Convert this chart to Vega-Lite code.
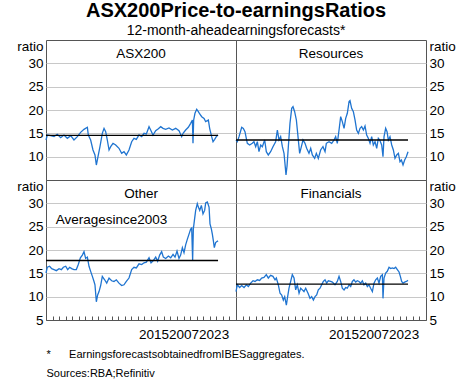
{
 "$schema": "https://vega.github.io/schema/vega-lite/v6.json",
 "background": "white",
 "autosize": {"type": "pad"},
 "padding": {"left": 16, "top": 0, "right": 0, "bottom": 0},
 "bounds": "flush",
 "spacing": 0,
 "columns": 2,
 "config": {
  "font": "Liberation Sans",
  "view": {"stroke": "#555555", "strokeWidth": 1},
  "axis": {"labelColor": "black", "titleColor": "black", "labelFont": "Liberation Sans", "titleFont": "Liberation Sans", "labelOverlap": false}
 },
 "title": {"text": "ASX200Price-to-earningsRatios", "subtitle": "12-month-aheadearningsforecasts*", "fontSize": 20, "fontWeight": "bold", "subtitleFontSize": 14, "color": "black", "subtitleColor": "black", "anchor": "middle", "offset": 1, "subtitlePadding": 3, "font": "Liberation Sans", "subtitleFont": "Liberation Sans"},
 "datasets": {
  "asx": [{"t":2003.00,"v":13.57},{"t":2003.15,"v":14.64},{"t":2003.54,"v":14.5},{"t":2003.93,"v":14.29},{"t":2004.31,"v":14.79},{"t":2004.70,"v":14.07},{"t":2005.08,"v":14.64},{"t":2005.47,"v":13.93},{"t":2005.86,"v":14.5},{"t":2006.24,"v":13.57},{"t":2006.63,"v":14.29},{"t":2007.01,"v":15.21},{"t":2007.40,"v":15.86},{"t":2007.79,"v":16.29},{"t":2007.90,"v":14.64},{"t":2008.17,"v":13.57},{"t":2008.44,"v":11.43},{"t":2008.67,"v":10.36},{"t":2008.83,"v":8.21},{"t":2009.06,"v":10.36},{"t":2009.25,"v":12.14},{"t":2009.52,"v":15.0},{"t":2009.72,"v":16.07},{"t":2009.91,"v":15.36},{"t":2010.10,"v":13.57},{"t":2010.30,"v":11.43},{"t":2010.49,"v":12.14},{"t":2010.76,"v":12.86},{"t":2011.07,"v":12.5},{"t":2011.45,"v":11.79},{"t":2011.76,"v":10.71},{"t":2012.03,"v":11.07},{"t":2012.30,"v":10.36},{"t":2012.61,"v":11.43},{"t":2012.92,"v":13.21},{"t":2013.19,"v":13.93},{"t":2013.46,"v":13.71},{"t":2013.77,"v":14.64},{"t":2014.08,"v":14.29},{"t":2014.35,"v":15.0},{"t":2014.62,"v":14.86},{"t":2014.93,"v":16.43},{"t":2015.12,"v":15.71},{"t":2015.39,"v":14.64},{"t":2015.70,"v":15.57},{"t":2016.01,"v":16.0},{"t":2016.28,"v":16.43},{"t":2016.55,"v":16.07},{"t":2016.86,"v":15.86},{"t":2017.24,"v":16.14},{"t":2017.63,"v":15.71},{"t":2018.02,"v":16.07},{"t":2018.40,"v":15.57},{"t":2018.71,"v":14.29},{"t":2018.87,"v":15.0},{"t":2019.17,"v":15.71},{"t":2019.48,"v":16.29},{"t":2019.75,"v":17.14},{"t":2019.95,"v":17.86},{"t":2020.02,"v":12.86},{"t":2020.10,"v":17.86},{"t":2020.25,"v":19.29},{"t":2020.45,"v":20.14},{"t":2020.64,"v":19.64},{"t":2020.80,"v":19.14},{"t":2021.03,"v":18.57},{"t":2021.30,"v":18.21},{"t":2021.49,"v":17.5},{"t":2021.80,"v":17.86},{"t":2021.95,"v":16.07},{"t":2022.18,"v":14.29},{"t":2022.34,"v":13.21},{"t":2022.53,"v":13.71},{"t":2022.72,"v":14.29},{"t":2022.92,"v":14.64}],
  "res": [{"t":2003.00,"v":13.57},{"t":2003.15,"v":13.21},{"t":2003.35,"v":14.29},{"t":2003.66,"v":16.29},{"t":2003.85,"v":16.07},{"t":2004.04,"v":15.36},{"t":2004.31,"v":12.86},{"t":2004.58,"v":12.5},{"t":2004.89,"v":12.86},{"t":2005.08,"v":13.21},{"t":2005.28,"v":12.14},{"t":2005.47,"v":13.21},{"t":2005.66,"v":11.07},{"t":2005.86,"v":12.5},{"t":2006.05,"v":12.14},{"t":2006.32,"v":13.57},{"t":2006.51,"v":11.07},{"t":2006.74,"v":10.36},{"t":2007.01,"v":11.07},{"t":2007.28,"v":12.14},{"t":2007.59,"v":13.21},{"t":2007.79,"v":15.71},{"t":2007.98,"v":13.57},{"t":2008.17,"v":14.29},{"t":2008.37,"v":12.14},{"t":2008.56,"v":10.71},{"t":2008.67,"v":8.5},{"t":2008.79,"v":6.1},{"t":2008.91,"v":8.0},{"t":2009.06,"v":12.14},{"t":2009.25,"v":17.14},{"t":2009.45,"v":20.36},{"t":2009.60,"v":20.71},{"t":2009.79,"v":19.64},{"t":2009.99,"v":17.86},{"t":2010.18,"v":14.29},{"t":2010.37,"v":10.71},{"t":2010.57,"v":12.14},{"t":2010.76,"v":13.57},{"t":2010.99,"v":12.86},{"t":2011.18,"v":11.79},{"t":2011.45,"v":10.71},{"t":2011.65,"v":11.79},{"t":2011.84,"v":10.36},{"t":2012.11,"v":9.64},{"t":2012.30,"v":10.71},{"t":2012.53,"v":9.64},{"t":2012.80,"v":11.43},{"t":2013.07,"v":12.14},{"t":2013.31,"v":11.07},{"t":2013.46,"v":12.86},{"t":2013.77,"v":13.21},{"t":2014.08,"v":12.86},{"t":2014.35,"v":13.57},{"t":2014.54,"v":14.29},{"t":2014.73,"v":12.86},{"t":2014.93,"v":15.71},{"t":2015.12,"v":18.57},{"t":2015.31,"v":17.5},{"t":2015.51,"v":16.07},{"t":2015.70,"v":18.21},{"t":2015.89,"v":19.29},{"t":2016.09,"v":21.79},{"t":2016.20,"v":22.0},{"t":2016.39,"v":20.36},{"t":2016.59,"v":19.64},{"t":2016.78,"v":17.86},{"t":2016.97,"v":15.71},{"t":2017.17,"v":15.0},{"t":2017.36,"v":16.07},{"t":2017.55,"v":16.43},{"t":2017.75,"v":15.71},{"t":2017.94,"v":16.57},{"t":2018.13,"v":14.64},{"t":2018.32,"v":13.93},{"t":2018.52,"v":12.86},{"t":2018.71,"v":14.29},{"t":2018.90,"v":12.5},{"t":2019.10,"v":13.21},{"t":2019.29,"v":11.79},{"t":2019.48,"v":13.93},{"t":2019.64,"v":13.57},{"t":2019.87,"v":12.5},{"t":2020.02,"v":10.0},{"t":2020.14,"v":14.29},{"t":2020.33,"v":16.07},{"t":2020.49,"v":15.36},{"t":2020.64,"v":13.57},{"t":2020.83,"v":14.29},{"t":2021.03,"v":12.5},{"t":2021.22,"v":11.43},{"t":2021.41,"v":9.64},{"t":2021.61,"v":10.36},{"t":2021.80,"v":10.71},{"t":2021.99,"v":8.93},{"t":2022.15,"v":9.29},{"t":2022.34,"v":8.21},{"t":2022.53,"v":9.29},{"t":2022.72,"v":10.0},{"t":2022.92,"v":11.07}],
  "oth": [{"t":2003.00,"v":15.07},{"t":2003.15,"v":16.30},{"t":2003.42,"v":16.52},{"t":2003.66,"v":16.01},{"t":2003.93,"v":15.80},{"t":2004.20,"v":15.58},{"t":2004.51,"v":16.01},{"t":2004.78,"v":15.80},{"t":2005.01,"v":16.30},{"t":2005.28,"v":16.52},{"t":2005.51,"v":15.80},{"t":2005.74,"v":16.30},{"t":2005.97,"v":16.01},{"t":2006.24,"v":15.80},{"t":2006.51,"v":15.80},{"t":2006.74,"v":16.88},{"t":2006.98,"v":18.33},{"t":2007.21,"v":18.91},{"t":2007.40,"v":19.64},{"t":2007.59,"v":18.19},{"t":2007.79,"v":18.48},{"t":2007.98,"v":16.52},{"t":2008.17,"v":15.43},{"t":2008.37,"v":14.35},{"t":2008.56,"v":13.26},{"t":2008.67,"v":12.54},{"t":2008.83,"v":8.91},{"t":2008.98,"v":10.36},{"t":2009.14,"v":11.09},{"t":2009.33,"v":12.39},{"t":2009.52,"v":14.35},{"t":2009.79,"v":13.62},{"t":2010.03,"v":12.90},{"t":2010.30,"v":13.99},{"t":2010.60,"v":13.41},{"t":2010.87,"v":13.26},{"t":2011.14,"v":13.62},{"t":2011.45,"v":12.90},{"t":2011.76,"v":12.39},{"t":2012.03,"v":12.54},{"t":2012.30,"v":13.26},{"t":2012.61,"v":13.99},{"t":2012.92,"v":15.80},{"t":2013.19,"v":16.30},{"t":2013.46,"v":16.16},{"t":2013.77,"v":17.03},{"t":2014.08,"v":16.88},{"t":2014.35,"v":17.25},{"t":2014.62,"v":17.39},{"t":2014.93,"v":18.33},{"t":2015.16,"v":17.25},{"t":2015.43,"v":17.75},{"t":2015.70,"v":18.48},{"t":2015.93,"v":17.61},{"t":2016.16,"v":18.91},{"t":2016.39,"v":19.64},{"t":2016.59,"v":18.48},{"t":2016.86,"v":18.19},{"t":2017.17,"v":18.70},{"t":2017.44,"v":18.33},{"t":2017.71,"v":19.06},{"t":2017.94,"v":18.48},{"t":2018.17,"v":19.78},{"t":2018.40,"v":18.19},{"t":2018.59,"v":18.91},{"t":2018.79,"v":20.51},{"t":2018.98,"v":19.42},{"t":2019.17,"v":21.09},{"t":2019.37,"v":22.32},{"t":2019.56,"v":23.41},{"t":2019.75,"v":24.49},{"t":2019.87,"v":24.71},{"t":2019.98,"v":17.75},{"t":2020.06,"v":24.49},{"t":2020.18,"v":26.30},{"t":2020.33,"v":28.48},{"t":2020.52,"v":29.93},{"t":2020.64,"v":29.20},{"t":2020.80,"v":28.48},{"t":2020.99,"v":29.57},{"t":2021.18,"v":27.75},{"t":2021.37,"v":28.48},{"t":2021.49,"v":30.07},{"t":2021.68,"v":30.29},{"t":2021.88,"v":29.20},{"t":2021.99,"v":25.58},{"t":2022.15,"v":24.49},{"t":2022.26,"v":23.41},{"t":2022.38,"v":21.96},{"t":2022.49,"v":20.51},{"t":2022.64,"v":21.59},{"t":2022.80,"v":21.81},{"t":2022.92,"v":21.96}],
  "fin": [{"t":2003.00,"v":11.09},{"t":2003.15,"v":12.54},{"t":2003.42,"v":11.96},{"t":2003.66,"v":12.39},{"t":2003.93,"v":11.96},{"t":2004.20,"v":12.54},{"t":2004.43,"v":12.17},{"t":2004.70,"v":12.90},{"t":2004.97,"v":13.41},{"t":2005.20,"v":13.26},{"t":2005.47,"v":13.62},{"t":2005.74,"v":13.48},{"t":2005.97,"v":13.99},{"t":2006.24,"v":14.13},{"t":2006.51,"v":14.71},{"t":2006.74,"v":13.99},{"t":2007.01,"v":14.57},{"t":2007.28,"v":14.35},{"t":2007.52,"v":13.62},{"t":2007.67,"v":13.99},{"t":2007.90,"v":12.54},{"t":2008.10,"v":10.72},{"t":2008.29,"v":10.36},{"t":2008.48,"v":9.28},{"t":2008.64,"v":10.0},{"t":2008.83,"v":8.19},{"t":2008.98,"v":10.0},{"t":2009.14,"v":11.81},{"t":2009.33,"v":13.26},{"t":2009.52,"v":14.71},{"t":2009.72,"v":13.99},{"t":2009.91,"v":11.45},{"t":2010.10,"v":12.54},{"t":2010.30,"v":10.72},{"t":2010.49,"v":11.81},{"t":2010.68,"v":11.45},{"t":2010.87,"v":11.09},{"t":2011.07,"v":11.81},{"t":2011.34,"v":10.72},{"t":2011.57,"v":9.64},{"t":2011.76,"v":10.0},{"t":2011.96,"v":9.28},{"t":2012.15,"v":10.0},{"t":2012.34,"v":10.36},{"t":2012.53,"v":11.45},{"t":2012.73,"v":11.81},{"t":2012.92,"v":12.54},{"t":2013.11,"v":13.26},{"t":2013.31,"v":13.62},{"t":2013.50,"v":12.90},{"t":2013.69,"v":13.41},{"t":2013.96,"v":13.26},{"t":2014.16,"v":13.12},{"t":2014.46,"v":12.54},{"t":2014.73,"v":13.26},{"t":2014.93,"v":14.35},{"t":2015.12,"v":13.26},{"t":2015.31,"v":11.81},{"t":2015.51,"v":11.45},{"t":2015.70,"v":11.96},{"t":2015.89,"v":11.81},{"t":2016.09,"v":12.54},{"t":2016.28,"v":12.17},{"t":2016.47,"v":13.26},{"t":2016.66,"v":13.62},{"t":2016.86,"v":13.12},{"t":2017.05,"v":13.41},{"t":2017.24,"v":13.26},{"t":2017.44,"v":12.90},{"t":2017.63,"v":13.41},{"t":2017.82,"v":12.54},{"t":2018.02,"v":12.90},{"t":2018.21,"v":12.17},{"t":2018.40,"v":12.54},{"t":2018.59,"v":11.81},{"t":2018.79,"v":11.09},{"t":2018.98,"v":12.90},{"t":2019.17,"v":13.62},{"t":2019.37,"v":13.99},{"t":2019.56,"v":12.90},{"t":2019.75,"v":14.35},{"t":2019.95,"v":14.71},{"t":2020.02,"v":9.64},{"t":2020.14,"v":13.99},{"t":2020.33,"v":15.07},{"t":2020.52,"v":15.43},{"t":2020.72,"v":16.30},{"t":2020.91,"v":16.01},{"t":2021.10,"v":16.16},{"t":2021.30,"v":16.01},{"t":2021.49,"v":16.30},{"t":2021.68,"v":15.80},{"t":2021.88,"v":15.29},{"t":2022.03,"v":14.35},{"t":2022.18,"v":13.26},{"t":2022.34,"v":12.90},{"t":2022.53,"v":13.12},{"t":2022.72,"v":13.26},{"t":2022.92,"v":13.48}],
  "avg": [{"panel":"ASX200","t0":2003,"t1":2022.92,"v":14.57},{"panel":"Resources","t0":2003,"t1":2022.92,"v":13.57},{"panel":"Other","t0":2003,"t1":2022.92,"v":17.75},{"panel":"Financials","t0":2003,"t1":2022.92,"v":12.68}],
  "note": [{"t":2004.12,"v":26.45,"label":"Averagesince2003"}]
 },
 "concat": [
  {
   "width": 190, "height": 140,
   "title": {"text": "ASX200", "fontSize": 13.5, "fontWeight": "normal", "color": "black", "baseline": "bottom", "offset": -18, "dy": 17},
   "layer": [
    {"data": {"name": "asx"}, "mark": {"type": "line", "color": "#1f74d0", "strokeWidth": 1.3},
     "encoding": {
      "x": {"field": "t", "type": "quantitative", "scale": {"domain": [2003, 2025], "nice": false, "zero": false}, "axis": null},
      "y": {"field": "v", "type": "quantitative", "scale": {"domain": [5, 35], "nice": false, "zero": false},
       "axis": {"orient": "left", "values": [10, 15, 20, 25, 30], "tickCount": 20, "labelOverlap": false, "title": "ratio", "titleAngle": 0, "titleAlign": "right", "titleBaseline": "middle", "titleX": -3, "titleY": 6, "titleFontWeight": "normal", "titleFontSize": 13.5, "labelFontSize": 13.5, "labelPadding": 3, "ticks": false, "domain": false, "grid": true, "gridColor": "#c8c8c8"}}}},
    {"data": {"name": "avg"}, "transform": [{"filter": "datum.panel == 'ASX200'"}], "mark": {"type": "rule", "color": "black", "strokeWidth": 1.3},
     "encoding": {"x": {"field": "t0", "type": "quantitative"}, "x2": {"field": "t1"}, "y": {"field": "v", "type": "quantitative"}}}
   ]
  },
  {
   "width": 190, "height": 140,
   "title": {"text": "Resources", "fontSize": 13.5, "fontWeight": "normal", "color": "black", "baseline": "bottom", "offset": -18, "dy": 17},
   "layer": [
    {"data": {"name": "res"}, "mark": {"type": "line", "color": "#1f74d0", "strokeWidth": 1.3},
     "encoding": {
      "x": {"field": "t", "type": "quantitative", "scale": {"domain": [2003, 2025], "nice": false, "zero": false}, "axis": null},
      "y": {"field": "v", "type": "quantitative", "scale": {"domain": [5, 35], "nice": false, "zero": false},
       "axis": {"orient": "right", "values": [10, 15, 20, 25, 30], "tickCount": 20, "labelOverlap": false, "title": "ratio", "titleAngle": 0, "titleAlign": "left", "titleBaseline": "middle", "titleX": 3, "titleY": 6, "titleFontWeight": "normal", "titleFontSize": 13.5, "labelFontSize": 13.5, "labelPadding": 3, "ticks": false, "domain": false, "grid": true, "gridColor": "#c8c8c8"}}}},
    {"data": {"name": "avg"}, "transform": [{"filter": "datum.panel == 'Resources'"}], "mark": {"type": "rule", "color": "black", "strokeWidth": 1.3},
     "encoding": {"x": {"field": "t0", "type": "quantitative"}, "x2": {"field": "t1"}, "y": {"field": "v", "type": "quantitative"}}}
   ]
  },
  {
   "width": 190, "height": 140,
   "title": {"text": "Other", "fontSize": 13.5, "fontWeight": "normal", "color": "black", "baseline": "bottom", "offset": -18, "dy": 17},
   "layer": [
    {"data": {"name": "oth"}, "mark": {"type": "line", "color": "#1f74d0", "strokeWidth": 1.3},
     "encoding": {
      "x": {"field": "t", "type": "quantitative", "scale": {"domain": [2003, 2025], "nice": false, "zero": false},
       "axis": {"values": [2003, 2003.759, 2004.517, 2005.276, 2006.034, 2006.793, 2007.552, 2008.31, 2009.069, 2009.828, 2010.586, 2011.345, 2012.103, 2012.862, 2013.621, 2014.379, 2015.138, 2015.897, 2016.655, 2017.414, 2018.172, 2018.931, 2019.69, 2020.448, 2021.207, 2021.966, 2022.724, 2023.483, 2024.241, 2025], "tickCount": 100,
        "labelExpr": "datum.value > 2018.9 && datum.value < 2019 ? '201520072023' : ''", "labelOverlap": false, "ticks": true, "tickSize": -4, "tickColor": "#555555", "domain": false, "grid": false, "labelFlush": false, "labelBound": false, "labelFontSize": 13.5, "labelPadding": 11,
        "title": ["*\u00a0\u00a0\u00a0\u00a0\u00a0\u00a0EarningsforecastsobtainedfromIBESaggregates.", "Sources:RBA;Refinitiv"], "titleFontSize": 11, "titleFontWeight": "normal", "titleAnchor": "start", "titleAlign": "left", "titleBaseline": "top", "titleX": 0, "titleY": 28, "titleLineHeight": 19.5}},
      "y": {"field": "v", "type": "quantitative", "scale": {"domain": [5, 35], "nice": false, "zero": false},
       "axis": {"orient": "left", "values": [5, 10, 15, 20, 25, 30], "tickCount": 20, "labelOverlap": false, "title": "ratio", "titleAngle": 0, "titleAlign": "right", "titleBaseline": "middle", "titleX": -3, "titleY": 6, "titleFontWeight": "normal", "titleFontSize": 13.5, "labelFontSize": 13.5, "labelPadding": 3, "ticks": false, "domain": false, "grid": true, "gridColor": {"condition": {"test": "datum.value == 5", "value": "transparent"}, "value": "#c8c8c8"}}}}},
    {"data": {"name": "avg"}, "transform": [{"filter": "datum.panel == 'Other'"}], "mark": {"type": "rule", "color": "black", "strokeWidth": 1.3},
     "encoding": {"x": {"field": "t0", "type": "quantitative"}, "x2": {"field": "t1"}, "y": {"field": "v", "type": "quantitative"}}},
    {"data": {"name": "note"}, "mark": {"type": "text", "align": "left", "baseline": "middle", "fontSize": 13.5, "color": "black"},
     "encoding": {"x": {"field": "t", "type": "quantitative"}, "y": {"field": "v", "type": "quantitative"}, "text": {"field": "label"}}}
   ]
  },
  {
   "width": 190, "height": 140,
   "title": {"text": "Financials", "fontSize": 13.5, "fontWeight": "normal", "color": "black", "baseline": "bottom", "offset": -18, "dy": 17},
   "layer": [
    {"data": {"name": "fin"}, "mark": {"type": "line", "color": "#1f74d0", "strokeWidth": 1.3},
     "encoding": {
      "x": {"field": "t", "type": "quantitative", "scale": {"domain": [2003, 2025], "nice": false, "zero": false},
       "axis": {"values": [2003, 2003.759, 2004.517, 2005.276, 2006.034, 2006.793, 2007.552, 2008.31, 2009.069, 2009.828, 2010.586, 2011.345, 2012.103, 2012.862, 2013.621, 2014.379, 2015.138, 2015.897, 2016.655, 2017.414, 2018.172, 2018.931, 2019.69, 2020.448, 2021.207, 2021.966, 2022.724, 2023.483, 2024.241, 2025], "tickCount": 100,
        "labelExpr": "datum.value > 2018.9 && datum.value < 2019 ? '201520072023' : ''", "labelOverlap": false, "ticks": true, "tickSize": -4, "tickColor": "#555555", "domain": false, "grid": false, "labelFlush": false, "labelBound": false, "labelFontSize": 13.5, "labelPadding": 11, "title": null}},
      "y": {"field": "v", "type": "quantitative", "scale": {"domain": [5, 35], "nice": false, "zero": false},
       "axis": {"orient": "right", "values": [5, 10, 15, 20, 25, 30], "tickCount": 20, "labelOverlap": false, "title": "ratio", "titleAngle": 0, "titleAlign": "left", "titleBaseline": "middle", "titleX": 3, "titleY": 6, "titleFontWeight": "normal", "titleFontSize": 13.5, "labelFontSize": 13.5, "labelPadding": 3, "ticks": false, "domain": false, "grid": true, "gridColor": {"condition": {"test": "datum.value == 5", "value": "transparent"}, "value": "#c8c8c8"}}}}},
    {"data": {"name": "avg"}, "transform": [{"filter": "datum.panel == 'Financials'"}], "mark": {"type": "rule", "color": "black", "strokeWidth": 1.3},
     "encoding": {"x": {"field": "t0", "type": "quantitative"}, "x2": {"field": "t1"}, "y": {"field": "v", "type": "quantitative"}}}
   ]
  }
 ]
}
